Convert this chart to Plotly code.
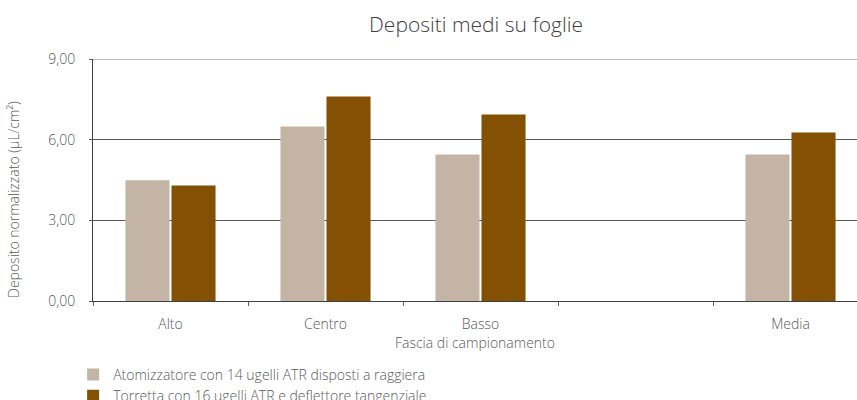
import plotly.graph_objects as go

categories = ["Alto", "Centro", "Basso", " ", "Media"]
series1_name = "Atomizzatore con 14 ugelli ATR disposti a raggiera"
series2_name = "Torretta con 16 ugelli ATR e deflettore tangenziale"
series1 = [4.49, 6.49, 5.45, None, 5.45]
series2 = [4.30, 7.61, 6.94, None, 6.27]
y_ticks = [0, 3, 6, 9]
y_ticktext = ["0,00", "3,00", "6,00", "9,00"]

FONT = "Open Sans"
TXT = "#595959"

fig = go.Figure()
fig.add_trace(go.Bar(x=categories, y=series1, name=series1_name,
                     marker=dict(color="#C4B4A6", line=dict(width=0))))
fig.add_trace(go.Bar(x=categories, y=series2, name=series2_name,
                     marker=dict(color="#845104", line=dict(width=0))))

W, H = 857, 400
L, T, B = 93, 59, 99
plot_w = W - L
n_vis = plot_w / 155.0

fig.update_layout(
    width=W, height=H,
    margin=dict(l=L, r=0, t=T, b=B, pad=0, autoexpand=False),
    paper_bgcolor="white", plot_bgcolor="white",
    barmode="group", bargap=0.406, bargroupgap=0.043,
    font=dict(family=FONT, color=TXT, size=14, weight=300),
    title=dict(text="Depositi medi su foglie", x=476 / W, xanchor="center",
               y=1 - 25 / H, yanchor="middle",
               font=dict(size=21, family=FONT, color="#404040", weight=300)),
    showlegend=True,
    legend=dict(orientation="v", x=-0.026, xanchor="left",
                yref="container", y=1 - 359 / H, yanchor="top",
                font=dict(size=14, family=FONT, color=TXT, weight=300),
                itemwidth=30, tracegroupgap=0, bgcolor="rgba(0,0,0,0)"),
    xaxis=dict(range=[-0.5, -0.5 + n_vis], type="category", automargin=False,
               showline=True, linecolor="#404040", linewidth=1,
               ticks="outside", tickson="boundaries", ticklen=4, tickcolor="#606060",
               ticklabelstandoff=10,
               showgrid=False, tickfont=dict(size=14, color=TXT),
               title=dict(text="Fascia di campionamento", standoff=2,
                          font=dict(size=14, color=TXT))),
    yaxis=dict(range=[0, 9], tickvals=y_ticks, ticktext=y_ticktext, automargin=False,
               showline=True, linecolor="#404040", linewidth=1,
               showgrid=True, gridcolor="#5a5a5a", gridwidth=1,
               zeroline=False, ticks="outside", ticklen=3, tickcolor="#606060",
               ticklabelstandoff=11, tickfont=dict(size=14, color=TXT)),
    shapes=[dict(type="line", xref="paper", x0=0, x1=1, yref="y",
                 y0=y_ticks[-1], y1=y_ticks[-1], line=dict(color="#7a7a7a", width=1),
                 layer="below")],
    annotations=[dict(text="Deposito normalizzato (µL/cm²)", textangle=-90,
                      xref="paper", yref="paper", x=(13 - L) / plot_w, y=(301 - 200) / 242,
                      xanchor="center", yanchor="middle", showarrow=False,
                      font=dict(size=14, color=TXT, family=FONT, weight=300))],
)

fig.write_html("out.html", config={"displayModeBar": False},
               post_script="document.body.style.margin='0';")
